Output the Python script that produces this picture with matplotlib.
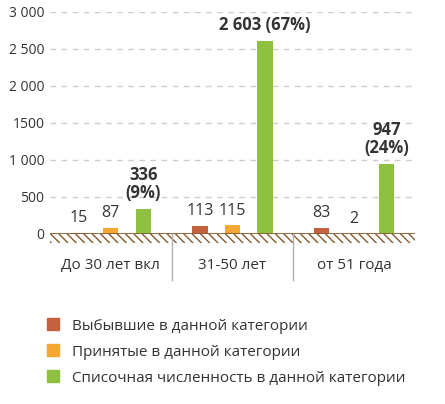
import matplotlib
matplotlib.use("Agg")
import matplotlib.pyplot as plt
from matplotlib.patches import Rectangle
from matplotlib.lines import Line2D

plt.rcParams['font.family'] = ['Open Sans', 'DejaVu Sans']
plt.rcParams['hatch.linewidth'] = 1.0

categories = ["До 30 лет вкл", "31-50 лет", "от 51 года"]
left = [15, 113, 83]
hired = [87, 115, 2]
total = [336, 2603, 947]
total_labels = ["336\n(9%)", "2 603 (67%)", "947\n(24%)"]
series_names = ["Выбывшие в данной категории",
                "Принятые в данной категории",
                "Списочная численность в данной категории"]
yticks = [0, 500, 1000, 1500, 2000, 2500, 3000]
ytick_labels = ["0", "500", "1 000", "1500", "2 000", "2 500", "3 000"]

c_red = "#c4613f"
c_orange = "#f5a733"
c_green = "#8dc13f"
c_ground = "#8a5a2e"
c_text = "#333333"

fig = plt.figure(figsize=(4.45, 4.04), dpi=100)
ax = fig.add_axes([0.1124, 0.4208, 0.8202, 0.5495])

x = list(range(len(categories)))
step = 0.267
w = 0.125
ax.bar([i - step for i in x], left, w, color=c_red, zorder=3)
ax.bar(x, hired, w, color=c_orange, zorder=3)
ax.bar([i + step for i in x], total, w, color=c_green, zorder=3)

for i in x:
    ax.annotate(str(left[i]), (i - step, left[i]), xytext=(0, 5), textcoords="offset points",
                ha="center", va="bottom", fontsize=11.5, color=c_text)
    ax.annotate(str(hired[i]), (i, hired[i]), xytext=(0, 5), textcoords="offset points",
                ha="center", va="bottom", fontsize=11.5, color=c_text)
    ax.annotate(total_labels[i], (i + step, total[i]), xytext=(0, 5), textcoords="offset points",
                ha="center", va="bottom", fontsize=12, fontweight="bold", color=c_text,
                linespacing=1.0)

ax.set_xlim(-0.5, 2.5)
ax.set_ylim(0, 3000)
ax.set_yticks(yticks, ytick_labels)
ax.set_xticks(x, categories)
ax.tick_params(axis="y", length=0, pad=4, labelsize=10, labelcolor=c_text)
ax.tick_params(axis="x", length=0, pad=17, labelsize=11, labelcolor=c_text)
for s in ax.spines.values():
    s.set_visible(False)

for y in yticks[1:]:
    ax.axhline(y, color="#cccccc", lw=1, ls=(0, (4, 4)), zorder=1)

# ground with hatching
ax.add_patch(Rectangle((-0.5, -125), 3.0, 125, facecolor="none", edgecolor=c_ground,
                       hatch="\\\\\\\\", lw=0, clip_on=False, zorder=2))
ax.axhline(0, color=c_ground, lw=2, zorder=4)

# group separators
for sx in [0.5, 1.5]:
    ax.plot([sx, sx], [0, -620], color="#b0b0b0", lw=1, clip_on=False, zorder=2)

handles = [Line2D([], [], marker="s", ls="", markersize=8, color=c)
           for c in [c_red, c_orange, c_green]]
fig.legend(handles, series_names, loc="upper left", bbox_to_anchor=(0.07, 0.245),
           frameon=False, fontsize=11, labelspacing=0.72, handletextpad=0.8,
           handlelength=1.0, labelcolor=c_text)

fig.savefig("out.png", dpi=100)
